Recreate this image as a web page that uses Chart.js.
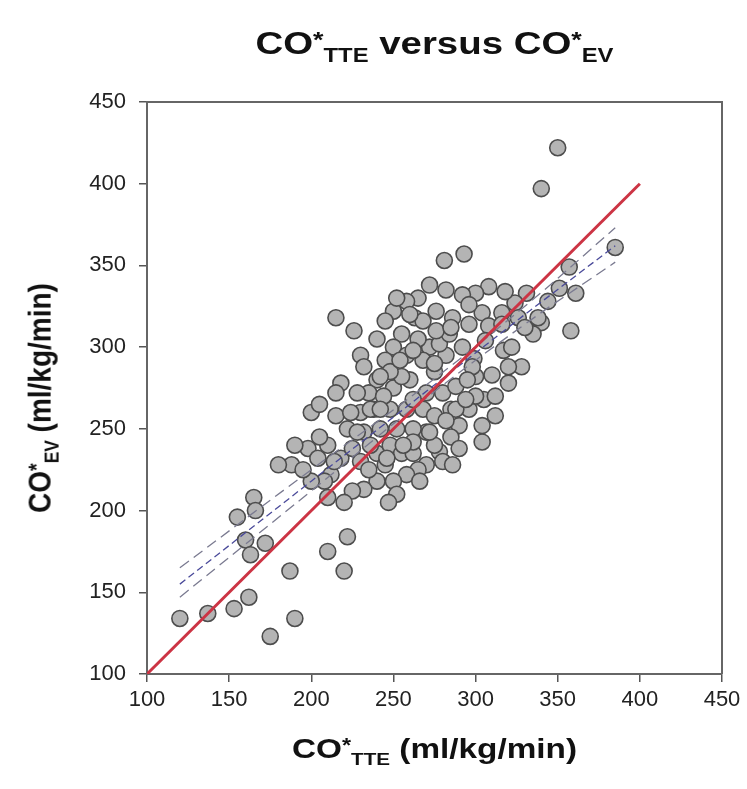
<!DOCTYPE html>
<html>
<head>
<meta charset="utf-8">
<script src="https://cdn.jsdelivr.net/npm/chart.js@4/dist/chart.umd.min.js"></script>
<style>
  body { margin: 0; background: #fff; }
  #wrap { position: relative; width: 747px; height: 789px; font-family: "Liberation Sans", Arial, sans-serif; color: #111; }
  #chart { position: absolute; left: 0; top: 0; }
  .lbl { position: absolute; font-weight: bold; white-space: nowrap; line-height: 1; }
  .lbl sub { font-size: 0.62em; vertical-align: -0.42em; line-height: 0; }
  .lbl sup { font-size: 0.7em; vertical-align: 0.3em; line-height: 0; }
  #title { left: 0; width: 869px; text-align: center; top: 27px; font-size: 32px; transform: scaleX(1.2); }
  #xlab { left: 0; width: 869px; text-align: center; top: 735px; font-size: 28px; transform: scaleX(1.19); }
  #ylab { left: 40px; top: 398px; font-size: 28px; transform: translate(-50%, -50%) rotate(-90deg) scaleY(1.15); }
</style>
</head>
<body>
<div id="wrap">
  <canvas id="chart" width="747" height="789"></canvas>
  <div id="title" class="lbl">CO<sup>*</sup><sub>TTE</sub> versus CO<sup>*</sup><sub>EV</sub></div>
  <div id="xlab" class="lbl">CO<sup>*</sup><sub>TTE</sub> (ml/kg/min)</div>
  <div id="ylab" class="lbl">CO<sup>*</sup><sub>EV</sub> (ml/kg/min)</div>
</div>
<script>
// CO*TTE (x) and CO*EV (y), ml/kg/min
const coTTE = [
  350, 340, 293, 281, 385, 357, 361, 351, 358, 340, 344, 331, 324, 318, 308, 304, 300, 292, 282, 272,
  265, 258, 250, 263, 276, 286, 296, 308, 316, 326, 335, 328, 317, 306, 299, 310, 320, 300, 305, 296,
  304, 290, 285, 280, 288, 275, 282, 272, 265, 255, 245, 250, 240, 245, 258, 268, 260, 250, 240, 235,
  230, 238, 248, 258, 268, 275, 285, 278, 270, 262, 252, 242, 232, 222, 215, 210, 205, 200, 205, 198,
  190, 188, 215, 226, 230, 218, 215, 212, 218, 225, 230, 240, 248, 255, 262, 270, 280, 275, 290, 300,
  312, 320, 265, 258, 250, 240, 232, 225, 220, 210, 208, 200, 195, 245, 235, 252, 247, 180, 165, 166,
  155, 160, 172, 163, 187, 210, 220, 222, 190, 175, 162, 153, 137, 120, 270, 262, 255, 248, 278, 284,
  292, 298, 268, 276, 288, 254, 244, 236, 228, 262, 272, 282, 294, 312, 322, 330, 338, 228, 236, 246,
  256, 266, 286, 224, 214, 204, 242, 252, 262, 296, 304, 316, 275, 285, 295, 260, 242, 232
];
const coEV = [
  422, 397, 357, 353, 361, 349, 333, 336, 310, 315, 328, 333, 327, 334, 337, 321, 333, 332, 335, 338,
  330, 328, 322, 318, 322, 318, 314, 313, 321, 318, 308, 288, 298, 304, 293, 283, 288, 282, 268, 262,
  242, 252, 262, 272, 276, 285, 295, 300, 305, 308, 316, 300, 305, 292, 295, 292, 280, 275, 280, 272,
  260, 262, 262, 262, 262, 258, 245, 236, 248, 250, 250, 250, 248, 250, 258, 240, 245, 260, 265, 238,
  240, 228, 318, 310, 295, 278, 272, 222, 232, 238, 230, 235, 240, 235, 235, 228, 230, 240, 238, 270,
  270, 278, 225, 222, 218, 218, 213, 212, 205, 208, 218, 218, 225, 228, 225, 210, 205, 228, 208, 200,
  196, 182, 180, 173, 163, 175, 163, 184, 134, 123, 147, 140, 137, 134, 272, 268, 282, 285, 302, 308,
  300, 288, 316, 310, 262, 292, 270, 262, 272, 242, 248, 255, 268, 258, 300, 312, 318, 248, 240, 232,
  240, 218, 228, 260, 230, 232, 262, 330, 298, 326, 252, 314, 290, 312, 280, 320, 282, 288
];
// regression line and its confidence band
const fitX = [120, 200, 265, 330, 385];
const fitMid = [155, 218, 269, 320, 362];
const fitUpper = [165, 225, 273, 325, 373];
const fitLower = [147, 212, 265, 314, 352];
// line of identity
const idX = [100, 400];
const idY = [100, 400];
const tickVals = [100, 150, 200, 250, 300, 350, 400, 450];

const toXY = (xs, ys) => xs.map((x, i) => ({ x: x, y: ys[i] }));

const frame = {
  id: "frame",
  afterDraw(c) {
    const a = c.chartArea, ctx = c.ctx;
    ctx.save();
    ctx.strokeStyle = "#666";
    ctx.lineWidth = 2;
    ctx.beginPath();
    ctx.moveTo(a.left, a.top);
    ctx.lineTo(a.right, a.top);
    ctx.lineTo(a.right, a.bottom);
    ctx.stroke();
    ctx.restore();
  }
};

const axis = (afterFit) => ({
  type: "linear",
  min: 100,
  max: 450,
  afterBuildTicks: s => { s.ticks = tickVals.map(v => ({ value: v })); },
  afterFit: afterFit,
  border: { display: true, color: "#666", width: 2 },
  grid: { drawOnChartArea: false, drawTicks: true, tickLength: 8, color: "#555", lineWidth: 1.5 },
  ticks: { color: "#222", font: { family: "Liberation Sans", size: 22 } }
});

const xAxis = axis(s => { s.height = 115; });
xAxis.ticks.padding = 5;
const yAxis = axis(s => { s.width = 147; });
yAxis.ticks.padding = 13;

new Chart(document.getElementById("chart").getContext("2d"), {
  type: "scatter",
  data: {
    datasets: [
      {
        type: "line", data: toXY(idX, idY), borderColor: "#cc3444", borderWidth: 3,
        pointRadius: 0, order: 0
      },
      {
        type: "line", data: toXY(fitX, fitUpper), borderColor: "#7a7a90", borderWidth: 1.3,
        borderDash: [11, 6], pointRadius: 0, tension: 0.4, order: 0
      },
      {
        type: "line", data: toXY(fitX, fitMid), borderColor: "#4a4a9a", borderWidth: 1.3,
        borderDash: [7, 4], pointRadius: 0, order: 0
      },
      {
        type: "line", data: toXY(fitX, fitLower), borderColor: "#7a7a90", borderWidth: 1.3,
        borderDash: [11, 6], pointRadius: 0, tension: 0.4, order: 0
      },
      {
        data: toXY(coTTE, coEV), pointRadius: 8, pointBorderWidth: 1.6,
        backgroundColor: "#b4b4b4", borderColor: "#4d4d4d", order: 1
      }
    ]
  },
  options: {
    responsive: false,
    animation: false,
    layout: { padding: { left: 0, top: 102, right: 25, bottom: 0 } },
    plugins: { legend: { display: false }, tooltip: { enabled: false } },
    scales: { x: xAxis, y: yAxis }
  },
  plugins: [frame]
});
</script>
</body>
</html>
